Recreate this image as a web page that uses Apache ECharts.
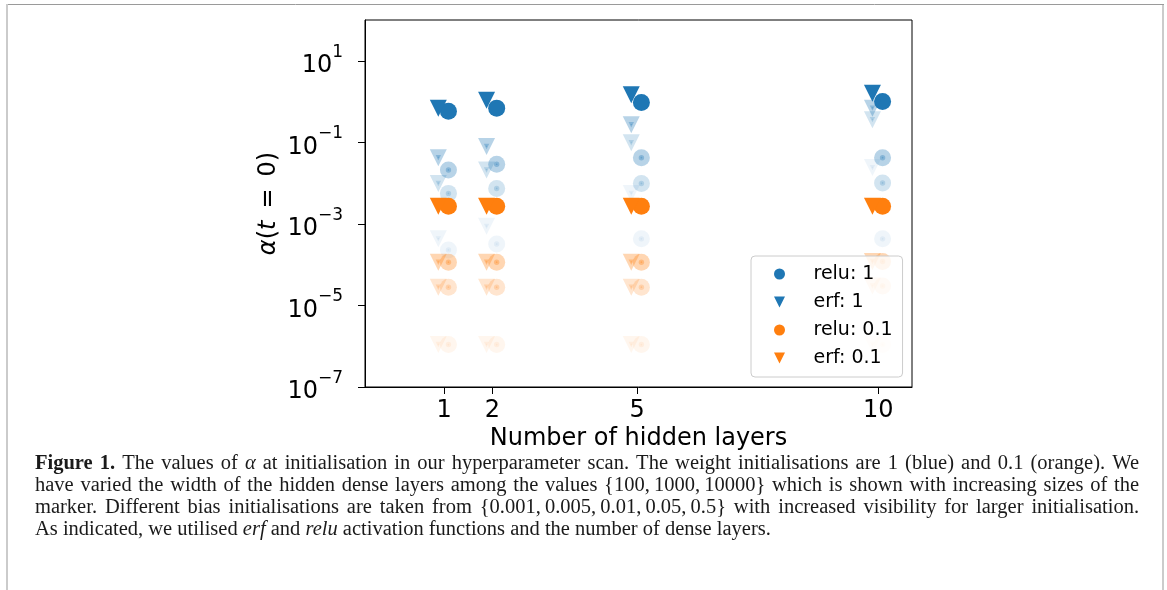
<!DOCTYPE html>
<html>
<head>
<meta charset="utf-8">
<script src="https://cdn.jsdelivr.net/npm/echarts@6/dist/echarts.min.js"></script>
<style>
  html, body { margin: 0; padding: 0; background: #fff; }
  #chart { width: 1167px; height: 590px; }
</style>
</head>
<body>
<div id="chart"></div>
<script>
// number of hidden layers (x axis)
const layers = [1, 2, 5, 10]
// hidden layer widths 100 / 1000 / 10000 -> marker sizes
const widths = [100, 1000, 10000]
// visible bias levels, most visible first
const biasLevels = [0.5, 0.05, 0.01, 0.005]
// alpha(t=0), one row per layer count, one column per bias level
const reluW1 = [
  [0.58, 0.021, 0.0056, 0.00023],
  [0.69, 0.029, 0.0074, 0.00032],
  [0.95, 0.042, 0.0098, 0.00043],
  [1.0, 0.042, 0.0101, 0.00043]
]
const erfW1 = [
  [0.69, 0.042, 0.0098, 0.00043],
  [1.08, 0.079, 0.021, 0.00087],
  [1.46, 0.27, 0.098, 0.0056],
  [1.6, 0.69, 0.36, 0.024]
]
const reluW01 = [
  [0.0027, 0.000115, 0.000028, 0.0000011],
  [0.0027, 0.000115, 0.000028, 0.0000011],
  [0.0027, 0.000115, 0.000028, 0.0000011],
  [0.0027, 0.00012, 0.00003, 0.0000011]
]
const erfW01 = [
  [0.0027, 0.000115, 0.000028, 0.0000011],
  [0.0027, 0.000115, 0.000028, 0.0000011],
  [0.0027, 0.000115, 0.000028, 0.0000011],
  [0.0027, 0.00012, 0.00003, 0.0000011]
]
const xTicks = [1, 2, 5, 10]
const yTicks = [1e-7, 1e-5, 1e-3, 1e-1, 1e1]

// styles
const blue = '#1f77b4'
const orange = '#ff7f0e'
const sizeOf = { 100: 1.7, 1000: 5.4, 10000: 17 }
const levelOpacity = [1, 0.32, 0.2, 0.07]
const triShift = -0.12
const circShift = 0.09
const triIcon = 'path://M0,0L20,0L10,20Z'

function points(values, dx) {
  const out = []
  values.forEach((row, i) => {
    row.forEach((v, j) => {
      widths.forEach(w => {
        out.push({
          value: [layers[i] + dx, v],
          symbolSize: sizeOf[w],
          itemStyle: { opacity: levelOpacity[j] }
        })
      })
    })
  })
  return out
}

function scatter(name, values, color, isErf) {
  return {
    name: name,
    type: 'scatter',
    silent: true,
    symbol: isErf ? 'triangle' : 'circle',
    symbolRotate: isErf ? 180 : 0,
    itemStyle: { color: color, opacity: 1 },
    data: points(values, isErf ? triShift : circShift)
  }
}

function supLabel(v) {
  const e = Math.round(Math.log10(v))
  return '{b|10}{s|' + (e < 0 ? '\u2212' + (-e) : e) + '}'
}

// caption, justified by hand
const captionLines = [
  '**Figure** **1.** The values of _α_ at initialisation in our hyperparameter scan. The weight initialisations are 1 (blue) and 0.1 (orange). We',
  'have varied the width of the hidden dense layers among the values {100,\u20091000,\u200910000} which is shown with increasing sizes of the',
  'marker. Different bias initialisations are taken from {0.001,\u20090.005,\u20090.01,\u20090.05,\u20090.5} with increased visibility for larger initialisation.',
  'As indicated, we utilised _erf_ and _relu_ activation functions and the number of dense layers.'
]
const capLeft = 35
const capRight = 1139
const capY = [464, 486, 508, 530]
const capFamily = '"Liberation Serif", serif'

const ctx = document.createElement('canvas').getContext('2d')
function fontOf(word, size) {
  if (word.b) return 'bold ' + size + 'px ' + capFamily
  if (word.i) return 'italic ' + size + 'px ' + capFamily
  return size + 'px ' + capFamily
}
function parseLine(line) {
  return line.split(' ').map(t => {
    if (t.startsWith('**')) return { t: t.replace(/\*\*/g, ''), b: true }
    if (t.startsWith('_')) return { t: t.replace(/_/g, ''), i: true }
    return { t: t }
  })
}
function measure(words, size) {
  let w = 0
  words.forEach(wd => { ctx.font = fontOf(wd, size); wd.w = ctx.measureText(wd.t).width; w += wd.w })
  return w
}
// fit the font so the last (unjustified) line has the width seen in the figure
const lastWords = parseLine(captionLines[3])
ctx.font = '18px ' + capFamily
const sp18 = ctx.measureText(' ').width
const w18 = measure(lastWords, 18) + sp18 * (lastWords.length - 1)
const capSize = 18 * 736 / w18

const captionGraphics = []
captionLines.forEach((line, li) => {
  const words = parseLine(line)
  const total = measure(words, capSize)
  ctx.font = capSize + 'px ' + capFamily
  const natGap = ctx.measureText(' ').width
  const gap = li < 3 ? (capRight - capLeft - total) / (words.length - 1) : natGap
  let x = capLeft
  words.forEach(wd => {
    captionGraphics.push({
      type: 'text',
      x: x,
      y: capY[li],
      silent: true,
      style: {
        text: wd.t,
        font: fontOf(wd, capSize),
        fill: '#1a1a1a',
        verticalAlign: 'middle'
      }
    })
    x += wd.w + gap
  })
})

const chart = echarts.init(document.getElementById('chart'))
chart.setOption({
  animation: false,
  backgroundColor: '#fff',
  grid: {
    left: 365, right: 255, top: 20, bottom: 203,
    show: true, borderColor: '#000', borderWidth: 1
  },
  xAxis: {
    type: 'value',
    min: -0.64,
    max: 10.7,
    name: 'Number of hidden layers',
    nameLocation: 'middle',
    nameGap: 40,
    nameMoveOverlap: false,
    nameTextStyle: { fontFamily: 'DejaVu Sans', fontSize: 24, color: '#000' },
    axisLine: { show: true, onZero: false, lineStyle: { color: '#000', width: 1 } },
    axisTick: { show: true, length: 7, customValues: xTicks, lineStyle: { color: '#000' } },
    axisLabel: {
      customValues: xTicks,
      margin: 12,
      fontFamily: 'DejaVu Sans',
      fontSize: 24,
      color: '#000'
    },
    splitLine: { show: false }
  },
  yAxis: {
    type: 'log',
    logBase: 10,
    min: 1e-7,
    max: 1e2,
    name: '{i|α}({i|t}\u2002=\u20020)',
    nameLocation: 'middle',
    nameRotate: 90,
    nameGap: 84,
    nameMoveOverlap: false,
    nameTextStyle: {
      fontFamily: 'DejaVu Sans', fontSize: 24, color: '#000',
      rich: { i: { fontFamily: 'DejaVu Sans', fontSize: 24, fontStyle: 'italic', color: '#000' } }
    },
    axisLine: { show: true, onZero: false, lineStyle: { color: '#000', width: 1 } },
    axisTick: { show: true, length: 7, customValues: yTicks, lineStyle: { color: '#000' } },
    axisLabel: {
      customValues: yTicks,
      margin: 22,
      formatter: supLabel,
      rich: {
        b: { fontFamily: 'DejaVu Sans', fontSize: 24, lineHeight: 34, verticalAlign: 'bottom', color: '#000' },
        s: { fontFamily: 'DejaVu Sans', fontSize: 17, lineHeight: 17, verticalAlign: 'top', color: '#000' }
      }
    },
    splitLine: { show: false },
    minorTick: { show: false }
  },
  legend: {
    orient: 'vertical',
    left: 751,
    top: 256,
    selectedMode: false,
    data: [
      { name: 'relu: 1', icon: 'circle' },
      { name: 'erf: 1', icon: triIcon },
      { name: 'relu: 0.1', icon: 'circle' },
      { name: 'erf: 0.1', icon: triIcon }
    ],
    itemWidth: 30,
    itemHeight: 11,
    itemGap: 0,
    itemStyle: { opacity: 1 },
    padding: [4, 10, 5, 23],
    backgroundColor: 'rgba(255,255,255,0.8)',
    borderColor: '#cccccc',
    borderWidth: 1,
    borderRadius: 4,
    textStyle: { fontFamily: 'DejaVu Sans', fontSize: 19, color: '#000', lineHeight: 28, padding: [0, 0, 0, 14] }
  },
  graphic: [
    { type: 'line', silent: true, shape: { x1: 6, y1: 4.5, x2: 1164, y2: 4.5 }, style: { stroke: '#9a9a9a', lineWidth: 1 } },
    { type: 'line', silent: true, shape: { x1: 7, y1: 4, x2: 7, y2: 590 }, style: { stroke: '#cbcbcb', lineWidth: 2 } },
    { type: 'line', silent: true, shape: { x1: 1163, y1: 5, x2: 1163, y2: 590 }, style: { stroke: '#cbcbcb', lineWidth: 2 } }
  ].concat(captionGraphics),
  series: [
    scatter('relu: 1', reluW1, blue, false),
    scatter('erf: 1', erfW1, blue, true),
    scatter('relu: 0.1', reluW01, orange, false),
    scatter('erf: 0.1', erfW01, orange, true)
  ]
})
</script>
</body>
</html>
